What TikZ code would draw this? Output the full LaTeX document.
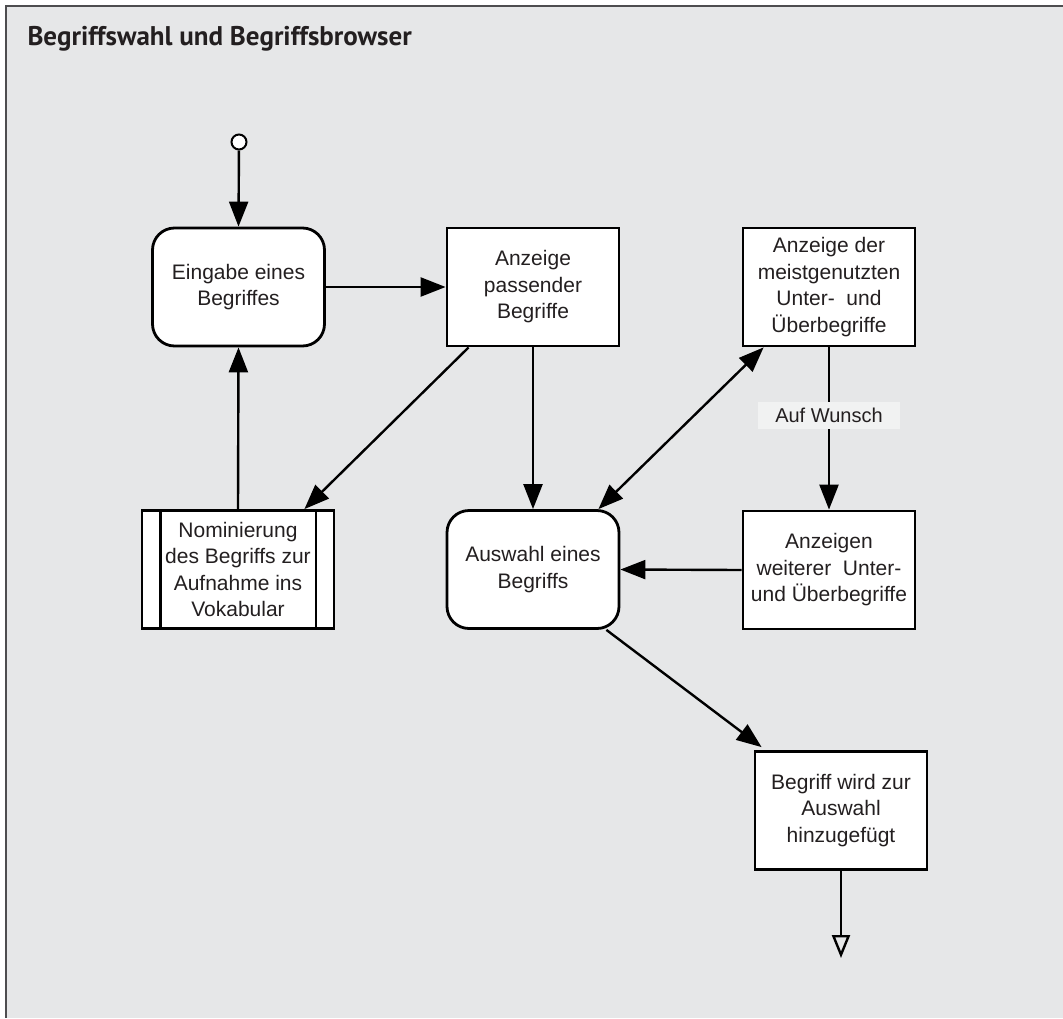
\documentclass[tikz,border=0pt]{standalone}
\usepackage{fontspec}
\setmainfont{Liberation Sans}
\newfontfamily\titlefont{PT Sans}
\usetikzlibrary{arrows.meta}

\definecolor{panel}{HTML}{E6E7E8}
\definecolor{ink}{HTML}{231F20}
\definecolor{framegray}{HTML}{4D4D4F}
\definecolor{tagfill}{HTML}{F1F2F2}

\begin{document}
\begin{tikzpicture}[x=1pt,y=-1pt,
  box/.style={draw=black, fill=white, line width=2.8pt,
    minimum width=172pt, minimum height=118pt, inner sep=0pt,
    align=center, text=ink, font=\fontsize{21}{26.5}\selectfont},
  roundbox/.style={box, rounded corners=22pt},
  subbox/.style={box, minimum width=192pt},
  flow/.style={line width=2.4pt, -{Triangle[length=25pt,width=19pt]}},
  both/.style={line width=2.4pt, {Triangle[length=25pt,width=19pt]}-{Triangle[length=25pt,width=19pt]}},
  finish/.style={line width=2.4pt, -{Triangle[open,length=23pt,width=18pt]}},
  tag/.style={fill=tagfill, text=ink, minimum width=142pt, minimum height=27pt,
    inner sep=0pt, font=\fontsize{20}{24}\selectfont},
]
\useasboundingbox (0,0) rectangle (1063,1018);

% panel and frame
\fill[white] (0,0) rectangle (1063,1018);
\fill[panel] (6,6) rectangle (1063,1018);
\draw[framegray, line width=2pt] (5,6) -- (1063,6);
\draw[framegray, line width=2pt] (6,6) -- (6,1018);

\node[anchor=base west, text=ink, font=\titlefont\bfseries\fontsize{27}{32}\selectfont]
  (title) at (24,45) {Begriffswahl und Begriffsbrowser};

% process steps
\node[circle, draw=black, fill=white, line width=2pt, minimum size=15pt, inner sep=0pt]
  (start) at (239,142) {};
\node[roundbox] (eing) at (238.5,287) {Eingabe eines\\Begriffes};
\node[box] (anz) at (533,287) {Anzeige\\passender\\Begriffe};
\node[box] (meist) at (829,287) {Anzeige der\\meistgenutzten\\Unter-\ \ und\\Überbegriffe};
\node[subbox] (nom) at (238,569.5) {Nominierung\\des Begriffs zur\\Aufnahme ins\\Vokabular};
\draw[line width=2.8pt] ([xshift=19.5pt]nom.north west) -- ([xshift=19.5pt]nom.south west);
\draw[line width=2.8pt] ([xshift=-19.5pt]nom.north east) -- ([xshift=-19.5pt]nom.south east);
\node[roundbox] (ausw) at (533,569.5) {Auswahl eines\\Begriffs};
\node[box] (weit) at (829,570) {Anzeigen\\weiterer\ \ Unter-\\und Überbegriffe};
\node[box] (begr) at (841,810.5) {Begriff wird zur\\Auswahl\\hinzugefügt};
\coordinate (stop) at (841,958);

% connectors
\draw[flow] (start) -- (eing.north);
\draw[flow] (eing.east) -- (anz.west);
\draw[flow] (anz.south) -- (ausw.north);
\draw[flow] ([xshift=23pt]anz.south west) -- ([xshift=-31pt]nom.north east);
\draw[flow] (nom.north) -- (eing.south);
\draw[flow] (meist.south) -- (weit.north)
  node[tag, pos=0.42] (wunsch) {Auf Wunsch};
\draw[both] ([xshift=22pt]meist.south west) -- ([xshift=-22pt]ausw.north east);
\draw[flow] (weit.west) -- (ausw.east);
\draw[flow] ([xshift=-14pt]ausw.south east) -- ([xshift=8pt,yshift=3pt]begr.north west);
\draw[finish] (begr.south) -- (stop);
\end{tikzpicture}
\end{document}
